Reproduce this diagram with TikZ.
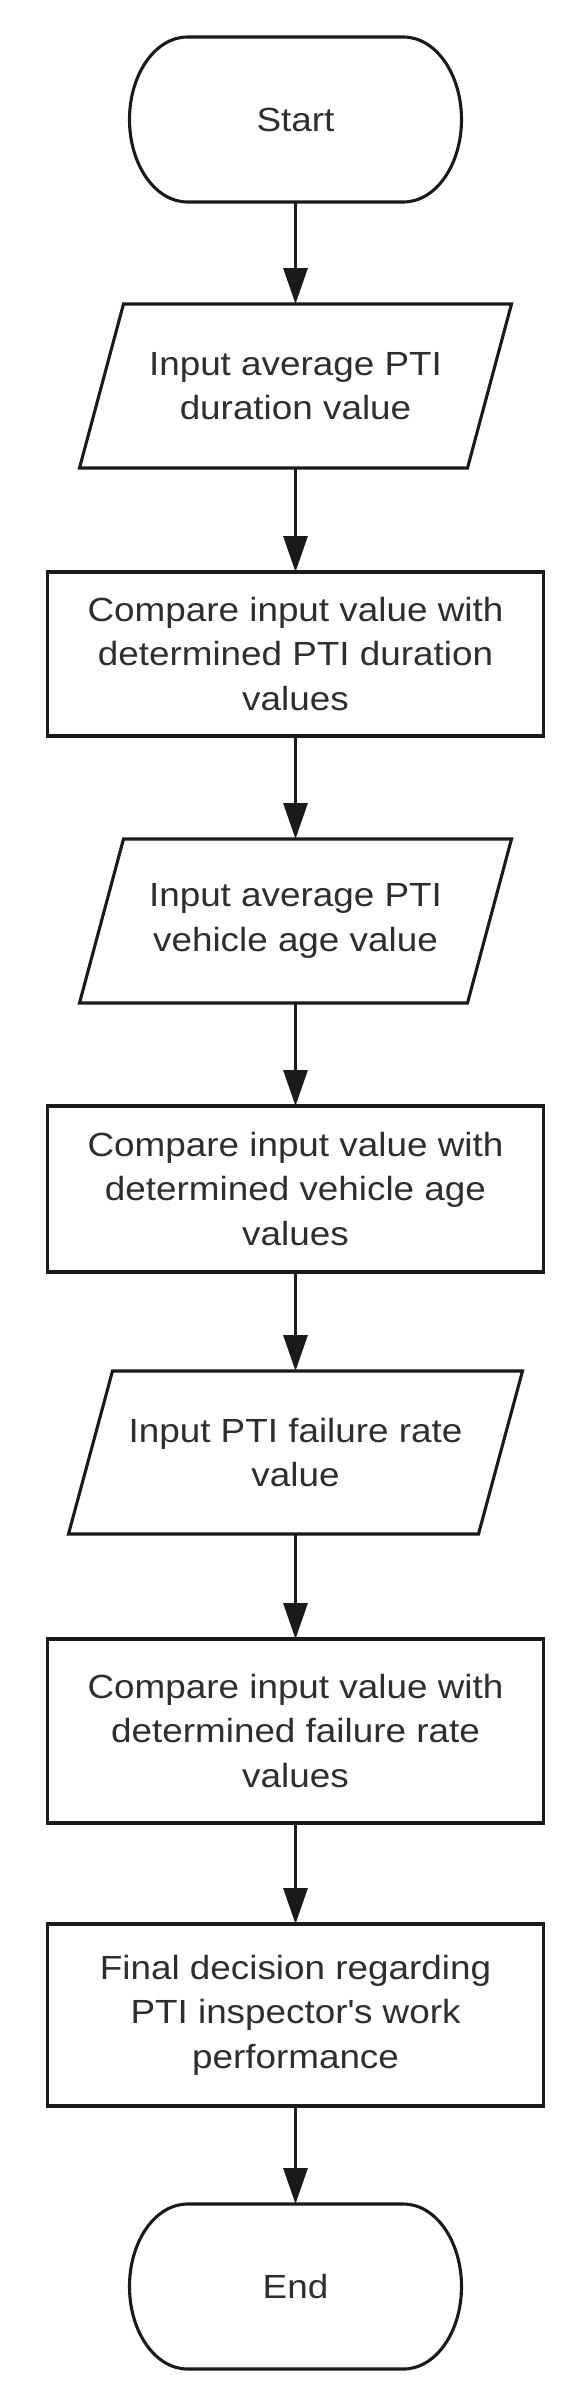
\documentclass[tikz,border=0pt]{standalone}
\usepackage{fontspec}
\setmainfont{Liberation Sans}[FakeStretch=1.1]
\usetikzlibrary{arrows.meta,calc}
\definecolor{txtcol}{HTML}{2E2E2E}
\definecolor{lncol}{HTML}{1A1A1A}
\newcommand\termoutline[1]{%
  \draw[shapeline] ([xshift=58pt]#1.north west) -- ([xshift=-58pt]#1.north east)
    arc[start angle=90,end angle=-90,x radius=58pt,y radius=82.5pt]
    -- ([xshift=58pt]#1.south west)
    arc[start angle=270,end angle=90,x radius=58pt,y radius=82.5pt] -- cycle;}
\newcommand\paraoutline[1]{%
  \draw[shapeline] (#1.south west) -- ([xshift=-44pt]#1.south east)
    -- (#1.north east) -- ([xshift=44pt]#1.north west) -- cycle;}
\begin{document}
\begin{tikzpicture}[x=1pt,y=1pt,
  lbl/.style={font=\fontsize{33.5}{44.5}\selectfont, text=txtcol, align=center, inner sep=0pt, outer sep=0pt},
  shapeline/.style={draw=lncol, line width=3.1pt, line join=miter},
  termnode/.style={lbl, minimum width=332pt, minimum height=165pt},
  paranode/.style={lbl, minimum width=432pt, minimum height=164pt},
  procbox/.style={lbl, shapeline, minimum width=496pt},
  arr/.style={draw=lncol, line width=3.1pt, -{Triangle[length=36pt,width=24pt]}}
]
\useasboundingbox (0,0) rectangle (586,-2406);
\fill[white] (0,0) rectangle (586,-2406);

\node[termnode] (start) at (295.5,-119.5) {Start};
\termoutline{start}

\node[paranode] (p1) at (295.5,-386) {Input average PTI\\duration value};
\paraoutline{p1}

\node[procbox, minimum height=164pt] (b1) at (295.5,-654) {Compare input value with\\determined PTI duration\\values};

\node[paranode] (p2) at (295.5,-921) {Input average PTI\\vehicle age value};
\paraoutline{p2}

\node[procbox, minimum height=166pt] (b2) at (295.5,-1189) {Compare input value with\\determined vehicle age\\values};

\node[paranode, minimum width=454pt, minimum height=163pt] (p3) at (295.5,-1452.5) {Input PTI failure rate\\value};
\paraoutline{p3}

\node[procbox, minimum height=184pt] (b3) at (295.5,-1731) {Compare input value with\\determined failure rate\\values};

\node[procbox, minimum height=182pt] (b4) at (295.5,-2015) {Final decision regarding\\PTI inspector\textquotesingle s work\\performance};

\node[termnode] (end) at (295.5,-2286.5) {End};
\termoutline{end}

\draw[arr] (start.south) -- (p1.north);
\draw[arr] (p1.south) -- (b1.north);
\draw[arr] (b1.south) -- (p2.north);
\draw[arr] (p2.south) -- (b2.north);
\draw[arr] (b2.south) -- (p3.north);
\draw[arr] (p3.south) -- (b3.north);
\draw[arr] (b3.south) -- (b4.north);
\draw[arr] (b4.south) -- (end.north);
\end{tikzpicture}
\end{document}
